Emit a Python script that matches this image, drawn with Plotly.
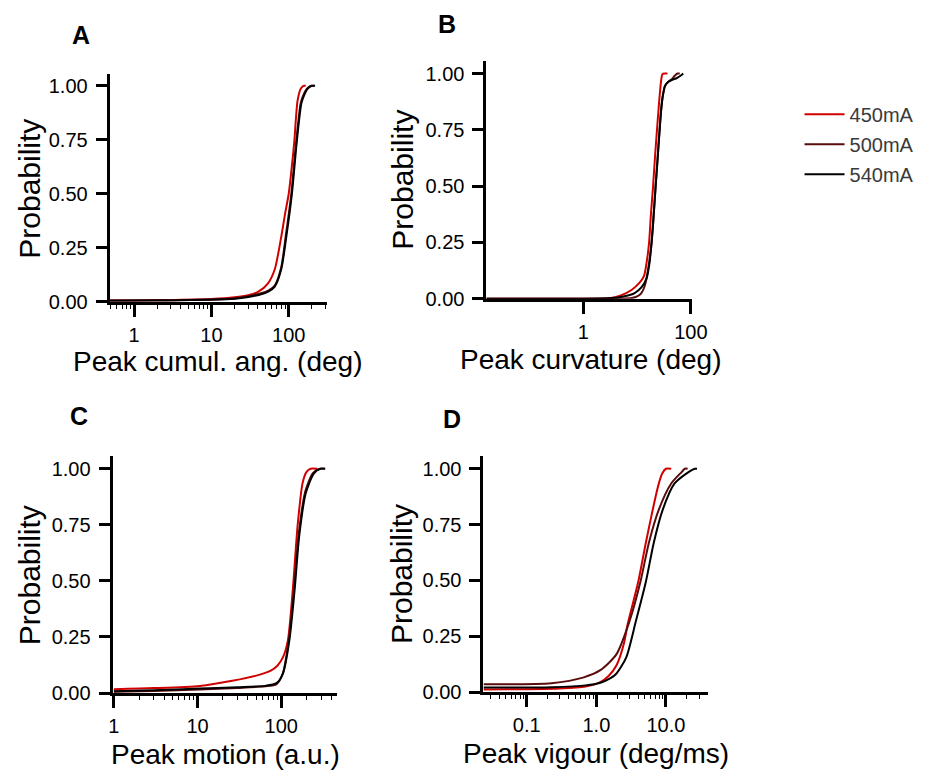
import plotly.graph_objects as go

# ---------------- data: cumulative probability curves ----------------
series_names = ["450mA", "500mA", "540mA"]
series_colors = ["#d10000", "#5a0c0c", "#000000"]

# A: peak cumulative angle (deg)
A_450_x = [0.48, 1, 3, 10, 20, 30, 40, 54, 66, 80, 90, 100, 110, 118, 130, 143, 155, 166]
A_450_p = [0.005, 0.006, 0.008, 0.012, 0.02, 0.03, 0.045, 0.085, 0.15, 0.30, 0.41, 0.50, 0.63, 0.74, 0.93, 0.986, 1.0, 1.0]
A_500_x = [0.48, 1, 3, 10, 20, 30, 45, 55, 66, 80, 92, 108, 125, 143, 158, 172, 195, 215]
A_500_p = [0.005, 0.006, 0.007, 0.010, 0.015, 0.025, 0.04, 0.052, 0.075, 0.16, 0.31, 0.50, 0.74, 0.92, 0.965, 0.987, 1.0, 1.0]
A_540_x = [0.48, 1, 3, 10, 20, 30, 45, 55, 66, 80, 93, 110, 127, 146, 160, 174, 200, 219]
A_540_p = [0.004, 0.005, 0.006, 0.009, 0.014, 0.022, 0.035, 0.048, 0.07, 0.15, 0.30, 0.50, 0.74, 0.92, 0.96, 0.985, 1.0, 1.0]

# B: peak curvature (deg)
B_450_x = [0.0158, 1, 3, 5, 8, 11, 13.4, 15, 16.7, 18, 19.8, 21.5, 23.4, 25, 26.2, 28, 29.6, 33, 36.6]
B_450_p = [0, 0, 0.002, 0.015, 0.04, 0.07, 0.10, 0.16, 0.25, 0.37, 0.5, 0.63, 0.75, 0.84, 0.90, 0.97, 0.997, 1.0, 1.0]
B_500_x = [0.0158, 1, 5, 8, 10, 12, 14, 16, 18.6, 20.3, 22.1, 24, 26.2, 28, 30, 33, 38, 44, 50, 56, 62]
B_500_p = [0, 0, 0, 0.003, 0.01, 0.025, 0.06, 0.13, 0.25, 0.37, 0.5, 0.62, 0.75, 0.84, 0.90, 0.945, 0.963, 0.975, 0.99, 1.0, 1.0]
B_540_x = [0.0158, 1, 3.5, 5, 7, 9, 12, 15, 16.8, 18.6, 20.3, 22.1, 24, 26.2, 28, 30, 33, 38, 45, 55, 64, 72]
B_540_p = [0, 0, 0.003, 0.008, 0.015, 0.025, 0.05, 0.09, 0.15, 0.25, 0.37, 0.5, 0.62, 0.75, 0.84, 0.90, 0.945, 0.963, 0.972, 0.98, 0.99, 1.0]

# C: peak motion (a.u.)
C_450_x = [1, 3, 10.6, 26, 53, 75, 90, 105, 120, 137, 157, 180, 200, 224, 270]
C_450_p = [0.017, 0.022, 0.032, 0.055, 0.080, 0.10, 0.122, 0.16, 0.234, 0.453, 0.747, 0.936, 0.985, 1.0, 1.0]
C_500_x = [1, 3, 10.6, 30, 64, 88, 104, 123, 142, 162, 194, 240, 290, 330]
C_500_p = [0.006, 0.009, 0.016, 0.023, 0.03, 0.04, 0.085, 0.235, 0.46, 0.71, 0.90, 0.982, 1.0, 1.0]
C_540_x = [1, 3, 10.6, 30, 64, 88, 105, 125, 144, 164, 196, 246, 294, 336]
C_540_p = [0.008, 0.012, 0.02, 0.026, 0.032, 0.044, 0.088, 0.234, 0.453, 0.70, 0.89, 0.98, 1.0, 1.0]

# D: peak vigour (deg/ms)
D_450_x = [0.0239, 0.1, 0.3, 0.7, 1.14, 1.5, 1.95, 2.5, 2.8, 4.0, 5.15, 6.2, 7.1, 8.0, 8.8, 10.0, 11.9]
D_450_p = [0.012, 0.013, 0.016, 0.025, 0.045, 0.072, 0.12, 0.22, 0.30, 0.494, 0.67, 0.79, 0.875, 0.94, 0.978, 1.0, 1.0]
D_500_x = [0.0239, 0.226, 0.66, 1.14, 1.95, 3.0, 4.3, 5.7, 7.9, 11.9, 16.8, 18.7, 20.5]
D_500_p = [0.035, 0.04, 0.066, 0.098, 0.17, 0.318, 0.494, 0.67, 0.817, 0.934, 0.985, 1.0, 1.0]
D_540_x = [0.0239, 0.226, 0.7, 1.14, 1.6, 1.95, 2.7, 3.7, 5.15, 6.7, 9.0, 13.3, 21.1, 25.9, 28]
D_540_p = [0.02, 0.022, 0.03, 0.042, 0.062, 0.083, 0.157, 0.318, 0.494, 0.67, 0.817, 0.934, 0.985, 1.0, 1.0]

# tick labels
prob_ticks = [0, 0.25, 0.5, 0.75, 1.0]
prob_labels = ["0.00", "0.25", "0.50", "0.75", "1.00"]
A_ticks, A_labels = [1, 10, 100], ["1", "10", "100"]
B_ticks, B_labels = [1, 100], ["1", "100"]
C_ticks, C_labels = [1, 10, 100], ["1", "10", "100"]
D_ticks, D_labels = [0.1, 1, 10], ["0.1", "1.0", "10.0"]

panel_titles = ["Peak cumul. ang. (deg)", "Peak curvature (deg)",
                "Peak motion (a.u.)", "Peak vigour (deg/ms)"]
panel_letters = ["A", "B", "C", "D"]

# ---------------- figure ----------------
W, H = 931, 778
FONT = "Liberation Sans, Arial, sans-serif"

def px_x(v):
    return v / W

def px_y(v):
    return 1 - v / H

panels = [
    # (curves, axis suffix, x domain px, y domain px (top, bottom), log10 x range, ticks, labels, minor ticks)
    ([(A_450_x, A_450_p), (A_500_x, A_500_p), (A_540_x, A_540_p)], "", (108, 330), (75, 306),
     [-0.316, 2.494], A_ticks, A_labels, True),
    ([(B_450_x, B_450_p), (B_500_x, B_500_p), (B_540_x, B_540_p)], "2", (493, 703), (62, 303),
     [-1.8, 2.018], B_ticks, B_labels, False),
    ([(C_450_x, C_450_p), (C_500_x, C_500_p), (C_540_x, C_540_p)], "3", (111, 340), (463, 703),
     [-0.015, 2.663], C_ticks, C_labels, True),
    ([(D_450_x, D_450_p), (D_500_x, D_500_p), (D_540_x, D_540_p)], "4", (490, 719), (463, 702),
     [-1.622, 1.598], D_ticks, D_labels, True),
]

fig = go.Figure()
layout = {}
for pi, (curves, sfx, xd, yd, xr, tv, tt, minor) in enumerate(panels):
    for si, (xs, ps) in enumerate(curves):
        fig.add_trace(go.Scatter(
            x=xs, y=ps, mode="lines",
            line=dict(color=series_colors[si], width=2, shape="spline", smoothing=0.7),
            name=series_names[si], legendgroup=series_names[si],
            showlegend=(pi == 0),
            xaxis="x" + sfx, yaxis="y" + sfx, hoverinfo="skip",
        ))
    top, bottom = yd
    xa = dict(
        type="log", domain=[px_x(xd[0]), px_x(xd[1])], range=xr,
        anchor="y" + sfx, showgrid=False, zeroline=False,
        showline=True, linecolor="black", linewidth=3,
        ticks="outside", ticklen=12, tickwidth=3, tickcolor="black",
        tickmode="array", tickvals=tv, ticktext=tt,
        tickfont=dict(family=FONT, size=20, color="black"),
        ticklabelstandoff=1,
    )
    if minor:
        xa["minor"] = dict(ticks="outside", ticklen=4, tickwidth=1.2,
                           tickcolor="black", dtick="D1", showgrid=False)
    ya = dict(
        domain=[px_y(bottom), px_y(top)], range=[0, 1.055],
        anchor="x" + sfx, showgrid=False, zeroline=False,
        showline=True, linecolor="black", linewidth=3,
        ticks="outside", ticklen=11, tickwidth=3, tickcolor="black",
        tickmode="array", tickvals=prob_ticks, ticktext=prob_labels,
        tickfont=dict(family=FONT, size=20, color="black"),
        ticklabelstandoff=4,
    )
    layout["xaxis" + sfx] = xa
    layout["yaxis" + sfx] = ya

fig.update_layout(**layout)

# axis titles and panel letters
x_title_pos = [(219, 367), (599, 365), (226, 765), (605, 764)]
y_title_pos = [(26, 191), (407, 182), (26, 583), (406, 582)]
letter_pos = [(79, 35), (453, 24), (77, 422), (458, 425)]
annotations = []
for i in range(4):
    annotations.append(dict(
        x=px_x(x_title_pos[i][0]), y=px_y(x_title_pos[i][1]), xref="paper", yref="paper",
        text=panel_titles[i], showarrow=False, xanchor="center", yanchor="middle",
        borderpad=0, font=dict(family=FONT, size=28, color="black")))
    annotations.append(dict(
        x=px_x(y_title_pos[i][0]), y=px_y(y_title_pos[i][1]), xref="paper", yref="paper",
        text="Probability", textangle=-90, showarrow=False, xanchor="center", yanchor="middle",
        borderpad=0, font=dict(family=FONT, size=30, color="black")))
    annotations.append(dict(
        x=px_x(letter_pos[i][0]), y=px_y(letter_pos[i][1]), xref="paper", yref="paper",
        text="<b>" + panel_letters[i] + "</b>", showarrow=False, xanchor="center", yanchor="middle",
        font=dict(family=FONT, size=25, color="black")))

fig.update_layout(
    width=W, height=H, autosize=False,
    margin=dict(l=0, r=0, t=0, b=0),
    paper_bgcolor="white", plot_bgcolor="white",
    annotations=annotations,
    showlegend=True,
    legend=dict(
        x=px_x(813), y=px_y(96), xanchor="left", yanchor="top",
        font=dict(family=FONT, size=20, color="#3a3a3a"),
        bgcolor="rgba(0,0,0,0)", tracegroupgap=1, itemwidth=40,
    ),
)

fig.write_html("out.html")
